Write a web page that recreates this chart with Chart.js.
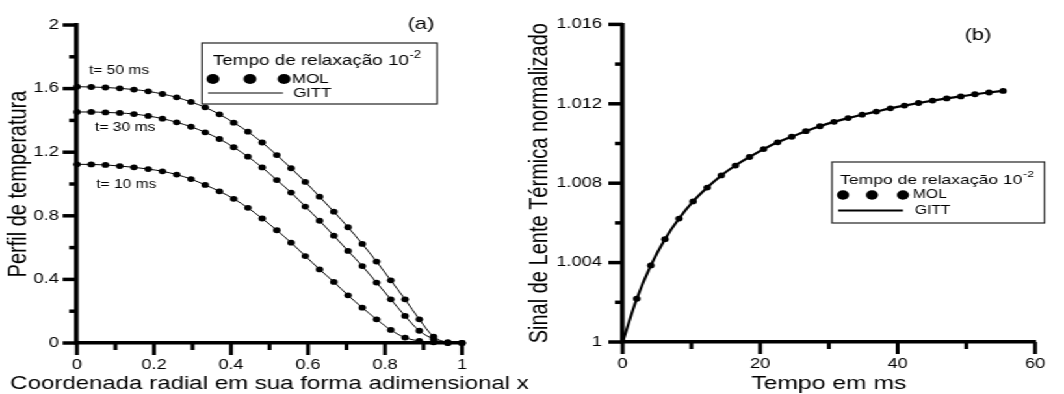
<!DOCTYPE html>
<html>
<head>
<meta charset="utf-8">
<script src="https://cdn.jsdelivr.net/npm/chart.js@4.4.0/dist/chart.umd.min.js"></script>
<style>
  html, body { margin: 0; padding: 0; background: #fff; overflow: hidden; }
  /* the source figure is stretched horizontally, so the whole drawing is too */
  #wrap { position: relative; width: 818px; height: 394px; transform: scaleX(1.3); transform-origin: 0 0; }
  canvas { display: block; position: absolute; top: 0; }
  #chartA { left: 0; }
  #chartB { left: 400px; }
</style>
</head>
<body>
<div id="wrap">
  <canvas id="chartA" width="409" height="394"></canvas>
  <canvas id="chartB" width="418" height="394"></canvas>
</div>
<script>
const FONT = "'Liberation Sans', Arial, Helvetica, sans-serif";

// (a) perfil radial de temperatura
const radialX = [0, 0.037, 0.074, 0.111, 0.148, 0.185, 0.222, 0.259, 0.296, 0.333, 0.370, 0.407, 0.444, 0.481,
                 0.519, 0.556, 0.593, 0.630, 0.667, 0.704, 0.741, 0.778, 0.815, 0.852, 0.889, 0.926, 0.963, 1.0];
const perfil50 = [1.612, 1.610, 1.607, 1.602, 1.594, 1.583, 1.566, 1.545, 1.516, 1.482, 1.438, 1.386, 1.329, 1.261,
                  1.182, 1.099, 1.013, 0.920, 0.826, 0.728, 0.623, 0.512, 0.394, 0.275, 0.149, 0.040, 0.005, 0];
const perfil30 = [1.453, 1.453, 1.450, 1.447, 1.440, 1.428, 1.411, 1.388, 1.360, 1.325, 1.283, 1.231, 1.172, 1.104,
                  1.025, 0.946, 0.858, 0.769, 0.675, 0.579, 0.484, 0.380, 0.275, 0.170, 0.077, 0.025, 0, 0];
const perfil10 = [1.124, 1.123, 1.120, 1.113, 1.105, 1.094, 1.080, 1.059, 1.031, 0.994, 0.954, 0.907, 0.850, 0.783,
                  0.709, 0.631, 0.547, 0.463, 0.384, 0.300, 0.222, 0.149, 0.082, 0.034, 0.013, 0.004, 0, 0];
const curveNamesA = ['t= 50 ms', 't= 30 ms', 't= 10 ms'];
const xTicksA = [0, 0.2, 0.4, 0.6, 0.8, 1];
const xLabelsA = ['0', '0.2', '0.4', '0.6', '0.8', '1'];
const xMinorA = [0.1, 0.3, 0.5, 0.7, 0.9];
const yTicksA = [0, 0.4, 0.8, 1.2, 1.6, 2];
const yLabelsA = ['0', '0.4', '0.8', '1.2', '1.6', '2'];
const yMinorA = [0.2, 0.6, 1.0, 1.4, 1.8];

// (b) sinal de lente termica
const tempoMs = [0, 2.05, 4.1, 6.15, 8.2, 10.25, 12.3, 14.35, 16.4, 18.45, 20.5, 22.55, 24.6, 26.65,
                 28.7, 30.75, 32.8, 34.85, 36.9, 38.95, 41.0, 43.05, 45.1, 47.15, 49.2, 51.25, 53.3, 55.35];
const sinalLT = [1, 1.00218, 1.00386, 1.00518, 1.00622, 1.00708, 1.00778, 1.00839, 1.00889, 1.00932, 1.00972, 1.01006, 1.01034, 1.01062,
                 1.01087, 1.01109, 1.01128, 1.01145, 1.01161, 1.01177, 1.01191, 1.01204, 1.01216, 1.01227, 1.01237, 1.01248, 1.01257, 1.01265];
const xTicksB = [0, 20, 40, 60];
const xLabelsB = ['0', '20', '40', '60'];
const xMinorB = [10, 30, 50];
const yTicksB = [1, 1.004, 1.008, 1.012, 1.016];
const yLabelsB = ['1', '1.004', '1.008', '1.012', '1.016'];
const yMinorB = [1.002, 1.006, 1.010, 1.014];

const legendTitle = 'Tempo de relaxação 10';
const legendSup = '-2';
const legendNames = ['MOL', 'GITT'];

Chart.defaults.font.family = FONT;
Chart.defaults.color = '#000';

const pts = (xs, ys) => xs.map((v, i) => ({ x: v, y: ys[i] }));

// tick marks, x title, panel letter, curve labels and the boxed legend
const deco = {
  id: 'deco',
  afterDraw(chart, args, o) {
    const { ctx, chartArea: a, scales: { x, y } } = chart;
    ctx.save();
    ctx.strokeStyle = '#000';
    ctx.fillStyle = '#000';
    const markX = (v, len) => {
      const p = x.getPixelForValue(v);
      ctx.beginPath(); ctx.moveTo(p, a.bottom); ctx.lineTo(p, a.bottom + len); ctx.stroke();
    };
    const markY = (v, len) => {
      const p = y.getPixelForValue(v);
      ctx.beginPath(); ctx.moveTo(a.left, p); ctx.lineTo(a.left - len, p); ctx.stroke();
    };
    ctx.lineWidth = 3;
    o.xMajor.forEach(v => markX(v, 12));
    o.xMinor.forEach(v => markX(v, 7));
    ctx.lineWidth = 3.5;
    o.yMajor.forEach(v => markY(v, 11));
    o.yMinor.forEach(v => markY(v, 6));

    ctx.textBaseline = 'middle';
    ctx.textAlign = 'center';
    ctx.font = `${o.xTitle.size}px ${FONT}`;
    ctx.fillText(o.xTitle.text, (a.left + a.right) / 2, o.xTitle.y);

    ctx.font = `17px ${FONT}`;
    ctx.fillText(o.letter.text, o.letter.x, o.letter.y);

    ctx.textAlign = 'left';
    ctx.font = `12px ${FONT}`;
    (o.notes || []).forEach(n => ctx.fillText(n.text, x.getPixelForValue(n.x), y.getPixelForValue(n.y)));

    const L = o.legend;
    ctx.lineWidth = 1.2;
    ctx.strokeStyle = '#222';
    ctx.strokeRect(L.x, L.y, L.w, L.h);
    ctx.font = `${L.titleSize}px ${FONT}`;
    ctx.fillText(legendTitle, L.titleX, L.titleY);
    const tw = ctx.measureText(legendTitle).width;
    ctx.font = `${L.supSize}px ${FONT}`;
    ctx.fillText(legendSup, L.titleX + tw + 0.5, L.titleY - 6);
    L.dots.forEach(d => { ctx.beginPath(); ctx.arc(d, L.molY, L.dotR, 0, Math.PI * 2); ctx.fill(); });
    ctx.font = `${L.itemSize}px ${FONT}`;
    ctx.fillText(legendNames[0], L.molX, L.molY);
    ctx.strokeStyle = '#000';
    ctx.lineWidth = L.lineW;
    ctx.beginPath(); ctx.moveTo(L.line[0], L.gittY); ctx.lineTo(L.line[1], L.gittY); ctx.stroke();
    ctx.fillText(legendNames[1], L.gittX, L.gittY);
    ctx.restore();
  }
};

function axis(min, max, ticks, labels, labelPad, isY, fit, title, titleSize, titlePad) {
  return {
    type: 'linear', min, max,
    grid: { display: false, drawTicks: false },
    border: { display: true, color: '#000', width: 3.5 },
    afterBuildTicks: s => { s.ticks = ticks.map(v => ({ value: v })); },
    afterFit: s => { if (isY) s.width = fit; else s.height = fit; },
    ticks: { autoSkip: false, maxRotation: 0, padding: labelPad, font: { size: 14 }, color: '#000',
             callback: (v, i) => labels[i] },
    title: { display: !!title, text: title || '', color: '#000', font: { size: titleSize || 12 },
             padding: { top: titlePad || 0, bottom: 0 } }
  };
}

const lineSet = (data, w) => ({ data, showLine: true, borderColor: '#000', borderWidth: w, pointRadius: 0,
                                cubicInterpolationMode: 'monotone', clip: false });
const dotSet = (data, r) => ({ data, showLine: false, pointRadius: r, pointBackgroundColor: '#000',
                               pointBorderWidth: 0, clip: false });

new Chart(document.getElementById('chartA'), {
  type: 'scatter',
  data: {
    datasets: [
      lineSet(pts(radialX, perfil50), 1),
      lineSet(pts(radialX, perfil30), 1),
      lineSet(pts(radialX, perfil10), 1),
      dotSet(pts(radialX, perfil50), 2.9),
      dotSet(pts(radialX, perfil30), 2.9),
      dotSet(pts(radialX, perfil10), 2.9)
    ]
  },
  options: {
    responsive: false, animation: false, events: [],
    layout: { padding: { top: 25, right: 53.6, left: 0, bottom: 0 } },
    scales: {
      x: axis(0, 1, xTicksA, xLabelsA, 14, false, 51),
      y: axis(0, 2, yTicksA, yLabelsA, 14, true, 59.2, 'Perfil de temperatura', 20, 2.8)
    },
    plugins: {
      legend: { display: false }, tooltip: { enabled: false },
      deco: {
        xMajor: xTicksA, xMinor: xMinorA, yMajor: yTicksA, yMinor: yMinorA,
        xTitle: { text: 'Coordenada radial em sua forma adimensional x', size: 18.5, y: 384 },
        letter: { text: '(a)', x: 323.8, y: 24 },
        notes: [
          { text: curveNamesA[0], x: 0.031, y: 1.71 },
          { text: curveNamesA[1], x: 0.047, y: 1.352 },
          { text: curveNamesA[2], x: 0.05, y: 0.994 }
        ],
        legend: { x: 155.4, y: 43, w: 180.8, h: 61, titleX: 163.8, titleY: 61, titleSize: 14.5, supSize: 10,
                  dots: [163.8, 192.3, 218.5], dotR: 5, molX: 224.6, molY: 79, itemSize: 13,
                  line: [160, 217.7], lineW: 1, gittX: 225.4, gittY: 93 }
      }
    }
  },
  plugins: [deco]
});

new Chart(document.getElementById('chartB'), {
  type: 'scatter',
  data: {
    datasets: [
      lineSet(pts(tempoMs, sinalLT), 2.2),
      dotSet(pts(tempoMs.slice(1), sinalLT.slice(1)), 2.9)
    ]
  },
  options: {
    responsive: false, animation: false, events: [],
    layout: { padding: { top: 19, right: 9, left: 0, bottom: 0 } },
    scales: {
      x: axis(0, 60, xTicksB, xLabelsB, 14, false, 52),
      y: axis(1, 1.016, yTicksB, yLabelsB, 16, true, 79, 'Sinal de Lente Térmica normalizado', 20, 3.3)
    },
    plugins: {
      legend: { display: false }, tooltip: { enabled: false },
      deco: {
        xMajor: xTicksB, xMinor: xMinorB, yMajor: yTicksB, yMinor: yMinorB,
        xTitle: { text: 'Tempo em ms', size: 19, y: 384 },
        letter: { text: '(b)', x: 352.3, y: 35.5 },
        legend: { x: 240, y: 162, w: 163.5, h: 61, titleX: 246.2, titleY: 180, titleSize: 13.5, supSize: 9.5,
                  dots: [248.5, 270.8, 294.6], dotR: 4.7, molX: 302.3, molY: 195, itemSize: 12,
                  line: [244.8, 294.6], lineW: 2, gittX: 303.8, gittY: 210.5 }
      }
    }
  },
  plugins: [deco]
});
</script>
</body>
</html>
